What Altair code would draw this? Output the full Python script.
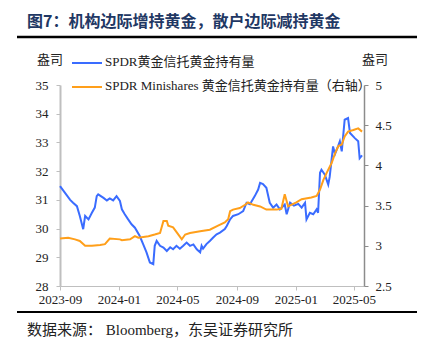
import altair as alt
import pandas as pd

# ---------------- data ----------------
spdr_dates = [
    "2023-09-01", "2023-09-11", "2023-09-22", "2023-09-28", "2023-10-06", "2023-10-12",
    "2023-10-19", "2023-10-23", "2023-10-30", "2023-11-06", "2023-11-12", "2023-11-16",
    "2023-11-19", "2023-11-30", "2023-12-07", "2023-12-13", "2023-12-20", "2023-12-27",
    "2024-01-03", "2024-01-07", "2024-01-13", "2024-01-20", "2024-01-27", "2024-02-03",
    "2024-02-13", "2024-02-20", "2024-02-27", "2024-03-05", "2024-03-12", "2024-03-15",
    "2024-03-19", "2024-03-26", "2024-04-02", "2024-04-09", "2024-04-16", "2024-04-22",
    "2024-04-29", "2024-05-06", "2024-05-13", "2024-05-20", "2024-05-27", "2024-06-03",
    "2024-06-10", "2024-06-17", "2024-06-20", "2024-06-23", "2024-06-30", "2024-07-07",
    "2024-07-14", "2024-07-21", "2024-07-28", "2024-08-07", "2024-08-11", "2024-08-18",
    "2024-08-24", "2024-09-04", "2024-09-14", "2024-09-21", "2024-09-28", "2024-10-08",
    "2024-10-15", "2024-10-19", "2024-10-25", "2024-11-01", "2024-11-08", "2024-11-15",
    "2024-11-22", "2024-11-29", "2024-12-09", "2024-12-13", "2024-12-20", "2024-12-28",
    "2025-01-06", "2025-01-13", "2025-01-20", "2025-01-23", "2025-01-30", "2025-02-06",
    "2025-02-13", "2025-02-16", "2025-02-20", "2025-02-23", "2025-03-02", "2025-03-09",
    "2025-03-12", "2025-03-19", "2025-03-23", "2025-03-30", "2025-04-02", "2025-04-06",
    "2025-04-12", "2025-04-19", "2025-04-23", "2025-05-03", "2025-05-10", "2025-05-13",
    "2025-05-18",
]
spdr_values = [
    31.48, 31.25, 31.00, 30.90, 30.78, 30.44,
    29.98, 30.44, 30.32, 30.55, 30.73, 31.13,
    31.19, 31.07, 30.98, 31.05, 30.98, 31.13,
    30.96, 30.67, 30.50, 30.32, 30.15, 30.03,
    29.74, 29.46, 29.17, 28.82, 28.76, 29.40,
    29.57, 29.40, 29.34, 29.22, 29.35, 29.28,
    29.40, 29.30, 29.40, 29.51, 29.40, 29.45,
    29.28, 29.17, 29.40, 29.30, 29.46, 29.57,
    29.69, 29.80, 29.86, 29.98, 30.09, 30.32,
    30.44, 30.50, 30.61, 30.90, 30.85, 31.13,
    31.36, 31.59, 31.55, 31.42, 30.90, 30.73,
    30.84, 30.67, 30.84, 30.50, 30.90, 30.80,
    30.86, 30.73, 30.90, 30.32, 30.55, 30.50,
    30.67, 30.55, 31.94, 32.05, 31.88, 31.53,
    31.80, 32.86, 32.60, 32.90, 33.04, 32.69,
    33.79, 33.85, 33.33, 33.15, 33.04, 32.45,
    32.55,
]

mini_dates = [
    "2023-09-01", "2023-09-18", "2023-10-02", "2023-10-12", "2023-10-23", "2023-11-06",
    "2023-11-23", "2023-12-03", "2023-12-13", "2024-01-03", "2024-01-07", "2024-01-24",
    "2024-02-03", "2024-02-10", "2024-03-02", "2024-03-15", "2024-03-26", "2024-04-02",
    "2024-04-09", "2024-04-12", "2024-04-22", "2024-05-03", "2024-05-10", "2024-05-17",
    "2024-05-27", "2024-06-17", "2024-07-07", "2024-07-24", "2024-08-07", "2024-08-14",
    "2024-08-18", "2024-08-24", "2024-09-07", "2024-09-18", "2024-09-24", "2024-10-05",
    "2024-10-19", "2024-11-01", "2024-11-08", "2024-11-22", "2024-12-02", "2024-12-09",
    "2024-12-16", "2025-01-02", "2025-01-13", "2025-02-02", "2025-02-13", "2025-02-20",
    "2025-02-27", "2025-03-06", "2025-03-16", "2025-03-23", "2025-03-30", "2025-04-06",
    "2025-04-12", "2025-04-19", "2025-04-30", "2025-05-10", "2025-05-18",
]
mini_values = [
    3.09, 3.10, 3.08, 3.06, 3.00, 3.00,
    3.01, 3.02, 3.09, 3.08, 3.07, 3.08,
    3.12, 3.10, 3.12, 3.14, 3.16, 3.31,
    3.31, 3.25, 3.23, 3.14, 3.08, 3.14,
    3.16, 3.18, 3.20, 3.25, 3.29, 3.33,
    3.43, 3.45, 3.47, 3.51, 3.54, 3.51,
    3.49, 3.45, 3.45, 3.45, 3.46, 3.64,
    3.49, 3.54, 3.58, 3.60, 3.62, 3.70,
    3.82, 3.91, 4.03, 4.15, 4.24, 4.26,
    4.36, 4.42, 4.44, 4.46, 4.42,
]

x_tick_months = ["2023-09", "2024-01", "2024-05", "2024-09", "2025-01", "2025-05"]
left_ticks = [28, 29, 30, 31, 32, 33, 34, 35]
right_ticks = [2.5, 3, 3.5, 4, 4.5, 5]

title_text = "图7：机构边际增持黄金，散户边际减持黄金"
source_text = "数据来源： Bloomberg，东吴证券研究所"
unit_text = "盎司"
legend_blue = "SPDR黄金信托黄金持有量"
legend_orange = "SPDR Minishares 黄金信托黄金持有量（右轴）"

BLUE = "#3A6CFF"
ORANGE = "#FF9F1A"
SERIF = "Liberation Serif, Noto Sans CJK SC"

# ---------------- chart ----------------
blue_df = pd.DataFrame({"date": spdr_dates, "value": spdr_values})
orange_df = pd.DataFrame({"date": mini_dates, "value": mini_values})


def dt(s):
    y, m = s.split("-")
    return alt.DateTime(year=int(y), month=int(m), date=1, utc=True)


x_scale = alt.Scale(
    type="utc",
    domain=[dt("2023-09"), alt.DateTime(year=2025, month=5, date=22, utc=True)],
)
x_axis = alt.Axis(
    values=[dt(s) for s in x_tick_months],
    labelExpr="utcFormat(datum.value, '%Y-%m')",
    title=None,
    grid=False,
    domainColor="#BFBFBF",
    domainWidth=1,
    tickColor="#BFBFBF",
    tickSize=4,
    labelPadding=3,
    labelFont=SERIF,
    labelFontSize=13,
    labelColor="#222222",
    labelFlush=False,
)

blue = alt.Chart(blue_df).mark_line(color=BLUE, strokeWidth=2).encode(
    x=alt.X("date:T", scale=x_scale, axis=x_axis),
    y=alt.Y(
        "value:Q",
        scale=alt.Scale(domain=[28, 35], zero=False, nice=False),
        axis=alt.Axis(
            orient="left",
            values=left_ticks,
            title=None,
            grid=False,
            domainColor="#BFBFBF",
            domainWidth=2,
            tickColor="#BFBFBF",
            tickSize=4,
            labelPadding=8,
            labelFont=SERIF,
            labelFontSize=13,
            labelColor="#222222",
        ),
    ),
)

orange = alt.Chart(orange_df).mark_line(color=ORANGE, strokeWidth=2).encode(
    x=alt.X("date:T", scale=x_scale, axis=x_axis),
    y=alt.Y(
        "value:Q",
        scale=alt.Scale(domain=[2.5, 5], zero=False, nice=False),
        axis=alt.Axis(
            orient="right",
            values=right_ticks,
            format="~g",
            title=None,
            grid=False,
            domainColor="#8C8C8C",
            domainWidth=1.5,
            tickColor="#8C8C8C",
            tickSize=4,
            labelPadding=7,
            labelFont=SERIF,
            labelFontSize=13,
            labelColor="#222222",
        ),
    ),
)

one = pd.DataFrame({"k": [0]})


def label(text, x, y, size=13, color="#222222", weight="normal", align="left", font=SERIF):
    return alt.Chart(one).mark_text(
        text=text, align=align, baseline="middle", fontSize=size,
        color=color, fontWeight=weight, font=font,
    ).encode(x=alt.value(x), y=alt.value(y))


def hline(x1, x2, y, color, width):
    return alt.Chart(one).mark_rule(color=color, strokeWidth=width).encode(
        x=alt.value(x1), x2=alt.value(x2), y=alt.value(y)
    )


title = label(title_text, -33, -63, size=16, color="#1F3864", weight="bold",
              font="Noto Sans CJK SC")
top_rule = hline(-43, 358, -48, "#000000", 2.5)
bottom_rule = hline(-43, 358, 227, "#000000", 2)
source = label(source_text, -33, 245, size=15)
unit_left = label(unit_text, -10, -25, size=13, align="center", font="Noto Sans CJK SC")
unit_right = label(unit_text, 315, -25, size=13, align="center", font="Noto Sans CJK SC")
leg_blue_line = hline(12, 42, -22, BLUE, 2)
leg_blue_text = label(legend_blue, 45, -23)
leg_orange_line = hline(12, 42, 2, ORANGE, 2)
leg_orange_text = label(legend_orange, 45, 1)

chart = (
    alt.layer(
        blue, orange,
        title, top_rule, bottom_rule, source, unit_left, unit_right,
        leg_blue_line, leg_blue_text, leg_orange_line, leg_orange_text,
    )
    .resolve_scale(y="independent")
    .properties(
        width=304,
        height=201,
        autosize=alt.AutoSizeParams(type="none"),
        padding={"left": 52, "top": 77, "right": 53, "bottom": 62},
        background="white",
    )
    .configure_view(stroke=None)
)

chart.save("out.html", embed_options={"renderer": "svg", "actions": False})
